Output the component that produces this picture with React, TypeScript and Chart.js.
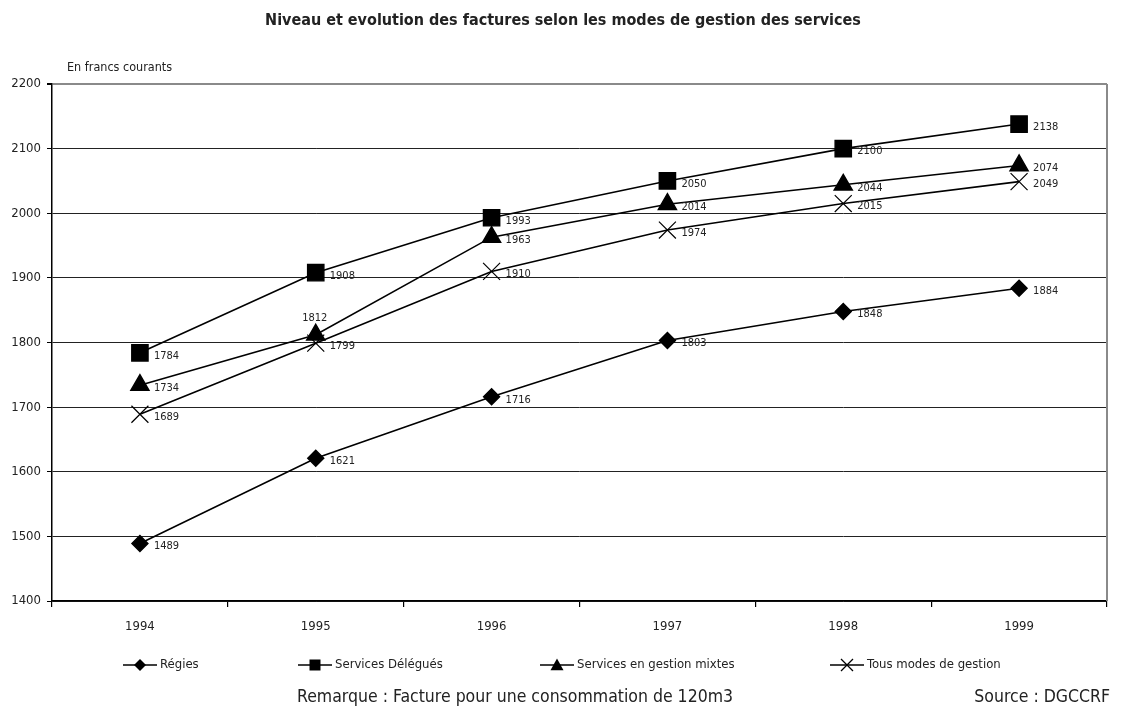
import React, { useEffect, useRef } from "react";
import { Chart, registerables } from "chart.js";

Chart.register(...registerables);

const years = ["1994", "1995", "1996", "1997", "1998", "1999"];
const regies = [1489, 1621, 1716, 1803, 1848, 1884];
const delegues = [1784, 1908, 1993, 2050, 2100, 2138];
const mixtes = [1734, 1812, 1963, 2014, 2044, 2074];
const tous = [1689, 1799, 1910, 1974, 2015, 2049];
const seriesNames = ["Régies", "Services Délégués", "Services en gestion mixtes", "Tous modes de gestion"];
const yMin = 1400;
const yMax = 2200;
const yStep = 100;

const titleText = "Niveau et evolution des factures selon les modes de gestion des services";
const unitText = "En francs courants";
const noteText = "Remarque : Facture pour une consommation de 120m3";
const sourceText = "Source : DGCCRF";

const FONT = '"Liberation Sans Narrow", "Arial Narrow", "DejaVu Sans Condensed", "Liberation Sans", sans-serif';
const TEXT = "#222";

function drawMarker(ctx: CanvasRenderingContext2D, style: string, x: number, y: number, s: number) {
  ctx.save();
  ctx.fillStyle = "#000";
  ctx.strokeStyle = "#000";
  ctx.lineWidth = 1.3;
  ctx.beginPath();
  if (style === "rectRot") {
    ctx.moveTo(x, y - s);
    ctx.lineTo(x + s, y);
    ctx.lineTo(x, y + s);
    ctx.lineTo(x - s, y);
    ctx.closePath();
    ctx.fill();
  } else if (style === "rect") {
    ctx.rect(x - s, y - s, 2 * s, 2 * s);
    ctx.fill();
  } else if (style === "triangle") {
    ctx.moveTo(x, y - s);
    ctx.lineTo(x + s, y + s * 0.8);
    ctx.lineTo(x - s, y + s * 0.8);
    ctx.closePath();
    ctx.fill();
  } else {
    ctx.moveTo(x - s, y - s);
    ctx.lineTo(x + s, y + s);
    ctx.moveTo(x + s, y - s);
    ctx.lineTo(x - s, y + s);
    ctx.stroke();
  }
  ctx.restore();
}

const framePlugin = {
  id: "frame",
  afterDraw(chart: any) {
    const { ctx, chartArea } = chart;
    ctx.save();
    ctx.strokeStyle = "#8a8a8a";
    ctx.lineWidth = 2;
    ctx.beginPath();
    ctx.moveTo(chartArea.right, chartArea.top);
    ctx.lineTo(chartArea.right, chartArea.bottom);
    ctx.stroke();
    ctx.restore();
  },
};

const labelPlugin = {
  id: "valueLabels",
  afterDatasetsDraw(chart: any) {
    const { ctx } = chart;
    ctx.save();
    ctx.font = `11px ${FONT}`;
    ctx.fillStyle = TEXT;
    ctx.textBaseline = "middle";
    chart.data.datasets.forEach((ds: any, di: number) => {
      const meta = chart.getDatasetMeta(di);
      meta.data.forEach((pt: any, i: number) => {
        const v = ds.data[i];
        if (di === 2 && i === 1) {
          ctx.textAlign = "center";
          ctx.fillText(String(v), pt.x - 1, pt.y - 17);
        } else {
          ctx.textAlign = "left";
          ctx.fillText(String(v), pt.x + 14, pt.y + 3);
        }
      });
    });
    ctx.restore();
  },
};

const textPlugin = {
  id: "texts",
  afterDraw(chart: any) {
    const { ctx } = chart;
    ctx.save();
    ctx.fillStyle = TEXT;
    ctx.textBaseline = "middle";
    ctx.textAlign = "center";
    ctx.font = `bold 16px ${FONT}`;
    ctx.fillText(titleText, 563, 21);
    ctx.textAlign = "left";
    ctx.font = `12.5px ${FONT}`;
    ctx.fillText(unitText, 67, 68);

    // legend
    const markerX = [140, 315, 557, 847];
    const styles = ["rectRot", "rect", "triangle", "crossRot"];
    const sizes = [6, 5.5, 6.5, 6];
    const ly = 665;
    ctx.font = `13px ${FONT}`;
    seriesNames.forEach((name, i) => {
      const mx = markerX[i];
      ctx.strokeStyle = "#000";
      ctx.lineWidth = 1.5;
      ctx.beginPath();
      ctx.moveTo(mx - 17, ly);
      ctx.lineTo(mx + 17, ly);
      ctx.stroke();
      drawMarker(ctx, styles[i], mx, ly, sizes[i]);
      ctx.fillStyle = TEXT;
      ctx.textAlign = "left";
      ctx.fillText(name, mx + 20, ly);
    });

    ctx.font = `17.5px ${FONT}`;
    ctx.textAlign = "center";
    ctx.fillText(noteText, 515, 697);
    ctx.textAlign = "right";
    ctx.fillText(sourceText, 1110, 697);
    ctx.restore();
  },
};

export default function App() {
  const ref = useRef<HTMLCanvasElement | null>(null);

  useEffect(() => {
    if (!ref.current) return;
    const common = {
      borderColor: "#000",
      backgroundColor: "#000",
      borderWidth: 1.6,
      pointBackgroundColor: "#000",
      pointBorderColor: "#000",
      pointBorderWidth: 1.4,
      fill: false,
      tension: 0,
    };
    const chart = new Chart(ref.current, {
      type: "line",
      data: {
        labels: years,
        datasets: [
          { ...common, label: seriesNames[0], data: regies, pointStyle: "rectRot", pointRadius: 8 },
          { ...common, label: seriesNames[1], data: delegues, pointStyle: "rect", pointRadius: 11.5 },
          { ...common, label: seriesNames[2], data: mixtes, pointStyle: "triangle", pointRadius: 10.5 },
          { ...common, label: seriesNames[3], data: tous, pointStyle: "crossRot", pointRadius: 12, pointBorderWidth: 1.2 },
        ],
      },
      options: {
        animation: false,
        responsive: false,
        devicePixelRatio: 1,
        layout: { autoPadding: false, padding: { left: 0, top: 84, right: 20, bottom: 0 } },
        plugins: {
          legend: { display: false },
          title: { display: false },
          tooltip: { enabled: false },
        },
        scales: {
          x: {
            type: "category",
            offset: true,
            grid: {
              offset: true,
              drawOnChartArea: false,
              drawTicks: true,
              tickLength: 6,
              color: "#000",
              lineWidth: 1.2,
            },
            border: { display: true, color: "#000", width: 1.5 },
            ticks: {
              font: { family: FONT, size: 13 },
              color: TEXT,
              padding: 12,
              maxRotation: 0,
            },
            afterFit(scale: any) {
              scale.height = 109;
            },
          },
          y: {
            min: yMin,
            max: yMax,
            ticks: {
              stepSize: yStep,
              font: { family: FONT, size: 13 },
              color: TEXT,
              padding: 6,
              callback: (v: any) => String(v),
            },
            grid: {
              drawTicks: true,
              tickLength: 5,
              color: (c: any) => (c.tick && c.tick.value === yMax ? "#8a8a8a" : "#222"),
              lineWidth: (c: any) => (c.tick && c.tick.value === yMax ? 2 : 1),
              tickColor: "#000",
            },
            border: { display: true, color: "#000", width: 1.5 },
            afterFit(scale: any) {
              scale.width = 52;
            },
          },
        },
      },
      plugins: [framePlugin, labelPlugin, textPlugin],
    } as any);
    return () => chart.destroy();
  }, []);

  return (
    <div style={{ position: "absolute", left: 0, top: 0, width: 1127, height: 710, background: "#fff" }}>
      <canvas ref={ref} width={1127} height={710} style={{ display: "block", width: 1127, height: 710 }} />
    </div>
  );
}
